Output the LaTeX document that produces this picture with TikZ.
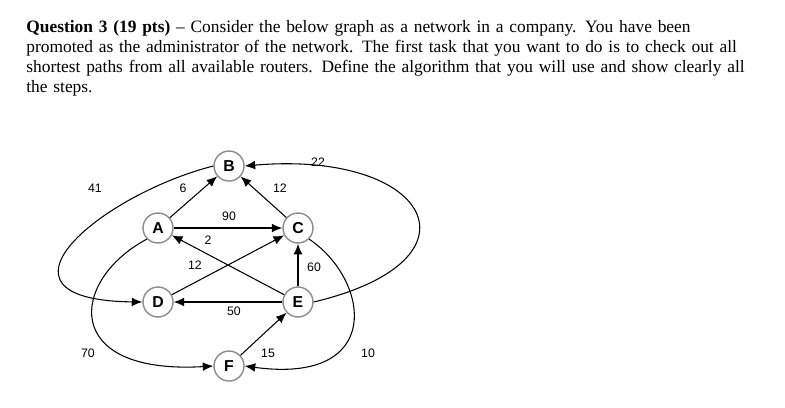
\documentclass[tikz,border=0pt]{standalone}
\usepackage{fontspec}
\setmainfont{Liberation Serif}
\newfontfamily\lblfont{Liberation Sans}
\usetikzlibrary{arrows,arrows.meta,calc,positioning}
\tikzset{
  router/.style = {circle, draw=black!45, thick, fill=white, minimum size=0.6cm, inner sep=0pt,
  font=\lblfont\bfseries\small},
  wt/.style = {font=\lblfont\scriptsize, inner sep=1pt},
  link/.style = {-{Latex[length=6pt,width=5pt]}, semithick, black}
}
\begin{document}
\begin{tikzpicture}[x=0.02cm, y=-0.02cm]
  \useasboundingbox (0,0) rectangle (785,407);
  \node [anchor=north west, text width=15.2cm, align=left, inner sep=0pt,
    font=\fontsize{9.9}{11.4pt}\selectfont] (question) at (26,20)
    {\textbf{Question 3 (19 pts)} -- Consider the below graph as a network in a company. You have been\\
    promoted as the administrator of the network. The first task that you want to do is to check out all\\
    shortest paths from all available routers. Define the algorithm that you will use and show clearly all\\
    the steps.};
  % routers
  \node [router] (B) at (229,166) {B};
  \node [router] (A) at (158,228) {A};
  \node [router] (C) at (298,228) {C};
  \node [router] (D) at (158,302) {D};
  \node [router] (E) at (298,302) {E};
  \node [router] (F) at (229,366) {F};
  % links
  \draw [link] (A) -- (B);
  \draw [link] (C) -- (B);
  \draw [link] (A) -- (C);
  \draw [link] (E) -- (A);
  \draw [link] (D) -- (C);
  \draw [link] (E) -- (C);
  \draw [link] (E) -- (D);
  \draw [link] (F) -- (E);
  \draw [link] (B.west) .. controls (100,195) and (-25,300) .. (D.west);
  \draw [link] (A.south west) .. controls (70,280) and (60,375) .. (F.west);
  \draw [link] (C.south east) .. controls (370,280) and (385,385) .. (F.east);
  \draw [link] (E.east) .. controls (490,260) and (430,150) .. (B.east);
  % weights
  \node [wt] (w41) at (95,188) {41};
  \node [wt] (w70) at (88,353) {70};
  \node [wt] (w10) at (368,353) {10};
  \node [wt] (w22) at (318,162) {22};
  \node [wt] (w6) at (183,188) {6};
  \node [wt] (w12a) at (280,188) {12};
  \node [wt] (w90) at (229,216) {90};
  \node [wt] (w2) at (208,240) {2};
  \node [wt] (w12b) at (195,265) {12};
  \node [wt] (w60) at (314,267) {60};
  \node [wt] (w50) at (234,311) {50};
  \node [wt] (w15) at (268,353) {15};
\end{tikzpicture}
\end{document}
